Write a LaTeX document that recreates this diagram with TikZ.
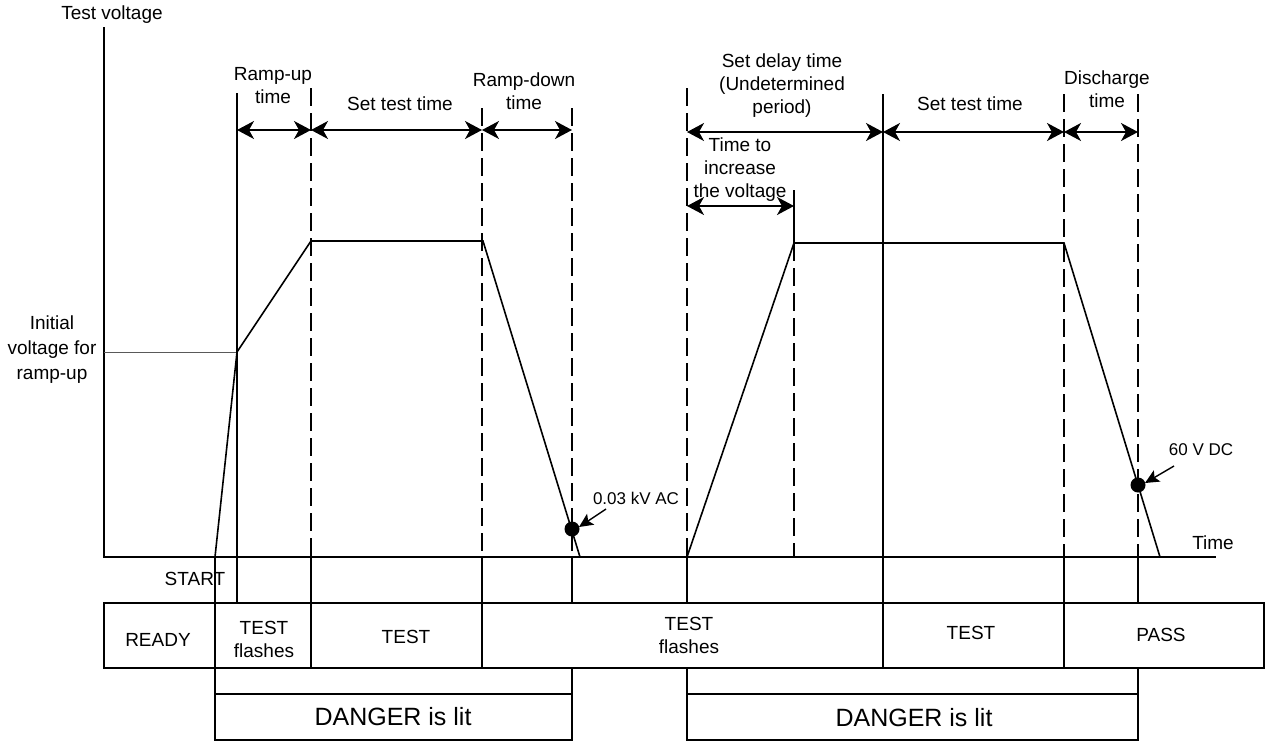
\documentclass[tikz,border=0pt]{standalone}
\usepackage{fontspec}
\setmainfont{Liberation Sans}
\usetikzlibrary{arrows.meta}

\begin{document}
\begin{tikzpicture}[x=1pt,y=-1pt,line width=1.6pt,>={Stealth[length=17pt,width=18pt,inset=5pt]},
  lbl/.style={font=\fontsize{19}{23}\selectfont,align=center,inner sep=0pt},
  small/.style={font=\fontsize{17}{20}\selectfont,inner sep=0pt},
  big/.style={font=\fontsize{25}{30}\selectfont,inner sep=0pt},
  guide/.style={dash pattern=on 18pt off 7pt},
  pointer/.style={-{Stealth[length=14pt,width=13pt,inset=3pt]},line width=1.4pt}]
  \useasboundingbox (0,0) rectangle (1266,742);
  % axes
  \draw (104,27) -- (104,557) -- (1216,557);
  \node[lbl] (vaxis) at (112,15) {Test voltage};
  \node[lbl] (taxis) at (1213,543) {Time};
  \draw[line width=0.8pt,gray!70!black] (104,352) -- (237,352);
  \node[lbl,font=\fontsize{19}{25}\selectfont] (init) at (52,350) {Initial\\voltage for\\ramp-up};
  % voltage curves
  \draw (215,557) -- (237,352) -- (311,241) -- (483,241) -- (580,557);
  \draw (687,557) -- (794,243) -- (1064,243) -- (1160,557);
  % time marks
  \draw (237,93) -- (237,603);
  \draw (215,557) -- (215,740);
  \draw[guide] (311,88) -- (311,557);   \draw (311,557) -- (311,668);
  \draw[guide] (482,108) -- (482,557);  \draw (482,557) -- (482,668);
  \draw[guide] (572,108) -- (572,557);  \draw (572,557) -- (572,603) (572,668) -- (572,694);
  \draw[guide] (687,88) -- (687,557);   \draw (687,557) -- (687,603) (687,668) -- (687,694);
  \draw (794,190) -- (794,243);         \draw[guide] (794,243) -- (794,557);
  \draw (883,94) -- (883,668);
  \draw[guide] (1064,94) -- (1064,557); \draw (1064,557) -- (1064,668);
  \draw[guide] (1138,94) -- (1138,557); \draw (1138,557) -- (1138,603) (1138,668) -- (1138,694);
  % spans
  \draw[<->] (237,130) -- (311,130);
  \draw[<->] (311,130) -- (482,130);
  \draw[<->] (482,130) -- (572,130);
  \draw[<->] (687,132) -- (883,132);
  \draw[<->] (883,132) -- (1064,132);
  \draw[<->] (1064,132) -- (1138,132);
  \draw[<->] (687,206) -- (794,206);
  \node[lbl] (rampup) at (273,86) {Ramp-up\\time};
  \node[lbl] (test1) at (400,104) {Set test time};
  \node[lbl] (rampdown) at (524,91) {Ramp-down\\time};
  \node[lbl] (delay) at (782,86) {Set delay time\\(Undetermined\\period)};
  \node[lbl] (test2) at (970,104) {Set test time};
  \node[lbl] (discharge) at (1107,89) {Discharge\\time};
  \node[lbl] (increase) at (740,170) {Time to\\increase\\the voltage};
  % limit points
  \fill (572,529) circle (7.5);
  \fill (1138,485) circle (7.5);
  \node[small] (ac) at (636,498) {0.03 kV AC};
  \node[small] (dc) at (1201,450) {60 V DC};
  \draw[pointer] (606,509) -- (579,527);
  \draw[pointer] (1174,466) -- (1145,483);
  % status row
  \node[lbl] (start) at (195,579) {START};
  \draw (104,603) rectangle (1264,668);
  \node[lbl] (ready) at (158,640) {READY};
  \node[lbl] (flash1) at (264,639) {TEST\\flashes};
  \node[lbl] (run1) at (406,637) {TEST};
  \node[lbl] (flash2) at (689,635) {TEST\\flashes};
  \node[lbl] (run2) at (971,633) {TEST};
  \node[lbl] (pass) at (1161,635) {PASS};
  % danger lamp
  \draw (215,694) rectangle (572,740);
  \draw (687,694) rectangle (1138,740);
  \node[big] (danger1) at (393,717) {DANGER is lit};
  \node[big] (danger2) at (914,718) {DANGER is lit};
\end{tikzpicture}
\end{document}
